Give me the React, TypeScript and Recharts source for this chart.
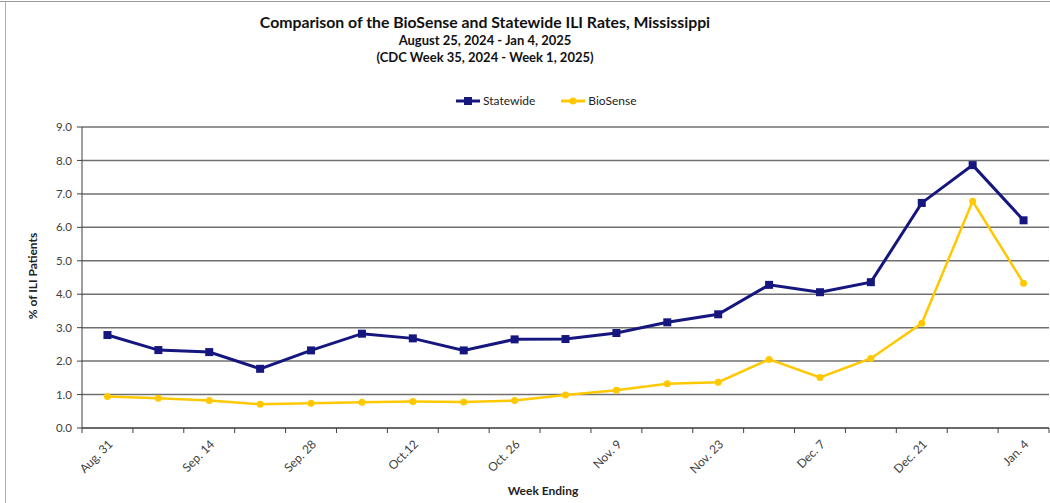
import { LineChart, Line, XAxis, YAxis, CartesianGrid } from 'recharts'

const weeks = [
  'Aug. 31', 'Sep. 7', 'Sep. 14', 'Sep. 21', 'Sep. 28', 'Oct. 5', 'Oct.12', 'Oct. 19', 'Oct. 26', 'Nov. 2',
  'Nov. 9', 'Nov. 16', 'Nov. 23', 'Nov. 30', 'Dec. 7', 'Dec. 14', 'Dec. 21', 'Dec. 28', 'Jan. 4',
]
const statewide = [2.78, 2.33, 2.27, 1.77, 2.32, 2.82, 2.68, 2.32, 2.65, 2.66, 2.84, 3.16, 3.40, 4.28, 4.06, 4.36, 6.73, 7.86, 6.21]
const biosense = [0.94, 0.89, 0.82, 0.71, 0.74, 0.77, 0.79, 0.78, 0.82, 0.99, 1.13, 1.32, 1.37, 2.05, 1.51, 2.08, 3.13, 6.78, 4.33]
const yTicks = [0, 1, 2, 3, 4, 5, 6, 7, 8, 9]

const navy = '#16167f'
const gold = '#ffc800'
const font = 'Lato, "Open Sans", sans-serif'

const chartData = weeks.map((week, i) => ({
  pos: i + 0.5,
  week,
  statewide: statewide[i],
  biosense: biosense[i],
}))

// boundaries get a tick mark, centres get the (every other) label
const xTicks: number[] = []
for (let i = 0; i <= weeks.length * 2; i++) xTicks.push(i / 2)

const XTick = (props: any) => {
  const { x, y, payload } = props
  const v = payload.value
  if (Number.isInteger(v)) {
    return <line x1={x} x2={x} y1={y - 5} y2={y} stroke="#404040" strokeWidth={1} />
  }
  const i = Math.floor(v)
  if (i % 2 !== 0) return null
  const tx = x + 6
  const ty = y + 12
  return (
    <text
      x={tx}
      y={ty}
      transform={`rotate(-45 ${tx} ${ty})`}
      textAnchor="end"
      fontSize={12}
      fontFamily={font}
      fill="#404040"
    >
      {weeks[i]}
    </text>
  )
}

const SquareDot = (props: any) => {
  const { cx, cy } = props
  if (cx == null || cy == null) return null
  return <rect x={cx - 4} y={cy - 4} width={8} height={8} fill={navy} />
}

const RoundDot = (props: any) => {
  const { cx, cy } = props
  if (cx == null || cy == null) return null
  return <circle cx={cx} cy={cy} r={3.5} fill={gold} />
}

export default function App() {
  return (
    <div style={{ position: 'absolute', left: 0, top: 0, width: 1050, height: 503, background: '#fff', fontFamily: font }}>
      <div style={{ position: 'absolute', left: 0, top: 1, width: 1050, height: 1, background: '#9a9a9a' }} />
      <div style={{ position: 'absolute', left: 5, top: 1, width: 1, height: 502, background: '#b0b0b0' }} />

      <div style={{ position: 'absolute', left: 185, width: 600, top: 11, textAlign: 'center', fontWeight: 700, color: '#111' }}>
        <div style={{ fontSize: 15.8, lineHeight: '21px' }}>Comparison of the BioSense and Statewide ILI Rates, Mississippi</div>
        <div style={{ fontSize: 13, lineHeight: '17px' }}>August 25, 2024 - Jan 4, 2025</div>
        <div style={{ fontSize: 13, lineHeight: '17px' }}>(CDC Week 35, 2024 - Week 1, 2025)</div>
      </div>

      <div style={{ position: 'absolute', left: 456, top: 93, display: 'flex', alignItems: 'center', fontSize: 12, color: '#222' }}>
        <svg width={24} height={14}>
          <line x1={0} x2={24} y1={7} y2={7} stroke={navy} strokeWidth={3} />
          <rect x={8} y={3} width={8} height={8} fill={navy} />
        </svg>
        <span style={{ marginLeft: 3, marginRight: 26 }}>Statewide</span>
        <svg width={24} height={14}>
          <line x1={0} x2={24} y1={7} y2={7} stroke={gold} strokeWidth={3} />
          <circle cx={12} cy={7} r={3.5} fill={gold} />
        </svg>
        <span style={{ marginLeft: 3 }}>BioSense</span>
      </div>

      <div
        style={{
          position: 'absolute', left: 32, top: 276, transform: 'translate(-50%, -50%) rotate(-90deg)',
          whiteSpace: 'nowrap', fontSize: 12, fontWeight: 700, color: '#222',
        }}
      >
        % of ILI Patients
      </div>
      <div style={{ position: 'absolute', left: 543, top: 490, transform: 'translate(-50%, -50%)', fontSize: 12, fontWeight: 700, color: '#222' }}>
        Week Ending
      </div>

      <div style={{ position: 'absolute', left: 0, top: 0 }}>
        <LineChart width={1050} height={503} data={chartData} margin={{ top: 127, right: 1, bottom: 0, left: 0 }}>
          <CartesianGrid vertical={false} stroke="#707070" strokeWidth={1.5} />
          <XAxis
            dataKey="pos"
            type="number"
            domain={[0, weeks.length]}
            ticks={xTicks}
            interval={0}
            height={75}
            tick={<XTick />}
            tickLine={false}
            tickSize={5}
            tickMargin={0}
            axisLine={{ stroke: '#404040', strokeWidth: 1 }}
          />
          <YAxis
            domain={[0, 9]}
            ticks={yTicks}
            interval={0}
            width={82}
            tickFormatter={(v: number) => v.toFixed(1)}
            tick={{ fontSize: 11.5, fill: '#404040', fontFamily: font }}
            tickSize={5}
            tickMargin={5}
            tickLine={{ stroke: '#404040' }}
            axisLine={{ stroke: '#404040', strokeWidth: 1 }}
          />
          <Line
            type="linear"
            dataKey="biosense"
            stroke={gold}
            strokeWidth={2.5}
            dot={<RoundDot />}
            activeDot={false}
            isAnimationActive={false}
          />
          <Line
            type="linear"
            dataKey="statewide"
            stroke={navy}
            strokeWidth={3}
            dot={<SquareDot />}
            activeDot={false}
            isAnimationActive={false}
          />
        </LineChart>
      </div>
    </div>
  )
}
